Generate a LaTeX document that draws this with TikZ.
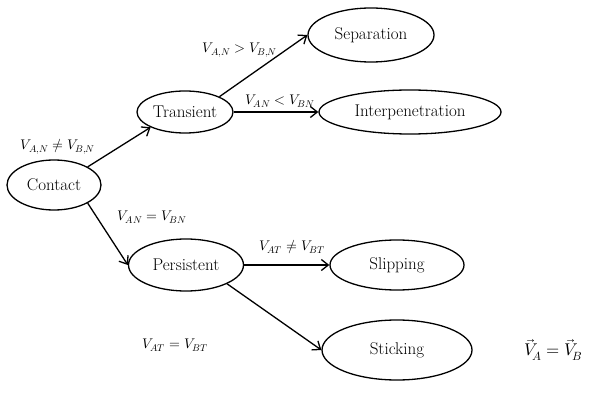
\documentclass[tikz,border=0pt]{standalone}
\usepackage{fontspec}
\usepackage{unicode-math}
\usetikzlibrary{arrows.meta,shapes.geometric}
\begin{document}
\begin{tikzpicture}[x=1pt,y=-1pt,
  state/.style={draw,line width=1.3pt,ellipse,inner sep=0pt,font=\fontsize{17}{19}\selectfont},
  conn/.style={line width=1.3pt,-{Straight Barb[length=7pt,width=11pt]}},
  lab/.style={font=\fontsize{14}{16}\selectfont}]
\useasboundingbox (0,0) rectangle (591,398);
\node[state,minimum width=94pt,minimum height=50pt] (contact) at (54,185) {Contact};
\node[state,minimum width=96pt,minimum height=42pt] (trans) at (185,112) {Transient};
\node[state,minimum width=126pt,minimum height=54pt] (sep) at (371,35) {Separation};
\node[state,minimum width=182pt,minimum height=44pt] (inter) at (410,112) {Interpenetration};
\node[state,minimum width=115pt,minimum height=52pt] (pers) at (186,265) {Persistent};
\node[state,minimum width=134pt,minimum height=50pt] (slip) at (397,265) {Slipping};
\node[state,minimum width=150pt,minimum height=60pt] (stick) at (397,350) {Sticking};
\draw[conn] (contact.north east) -- (trans.south west);
\draw[conn] (trans.north east) -- (sep.west);
\draw[conn] (trans.east) -- (inter.west);
\draw[conn] (contact.south east) -- (pers.west);
\draw[conn] (pers.east) -- (slip.west);
\draw[conn] (pers.south east) -- (stick.west);
\node[lab] (l1) at (58,147) {$V_{A,N}\neq V_{B,N}$};
\node[lab] (l2) at (240,50) {$V_{A,N}>V_{B,N}$};
\node[lab] (l3) at (280,101) {$V_{AN}<V_{BN}$};
\node[lab] (l4) at (152,217) {$V_{AN}=V_{BN}$};
\node[lab] (l5) at (292,247) {$V_{AT}\neq V_{BT}$};
\node[lab] (l6) at (175,345) {$V_{AT}=V_{BT}$};
\node[lab,font=\fontsize{17}{19}\selectfont] (l7) at (553,350) {$\vec{V}_{\!A}=\vec{V}_{\!B}$};
\end{tikzpicture}
\end{document}
